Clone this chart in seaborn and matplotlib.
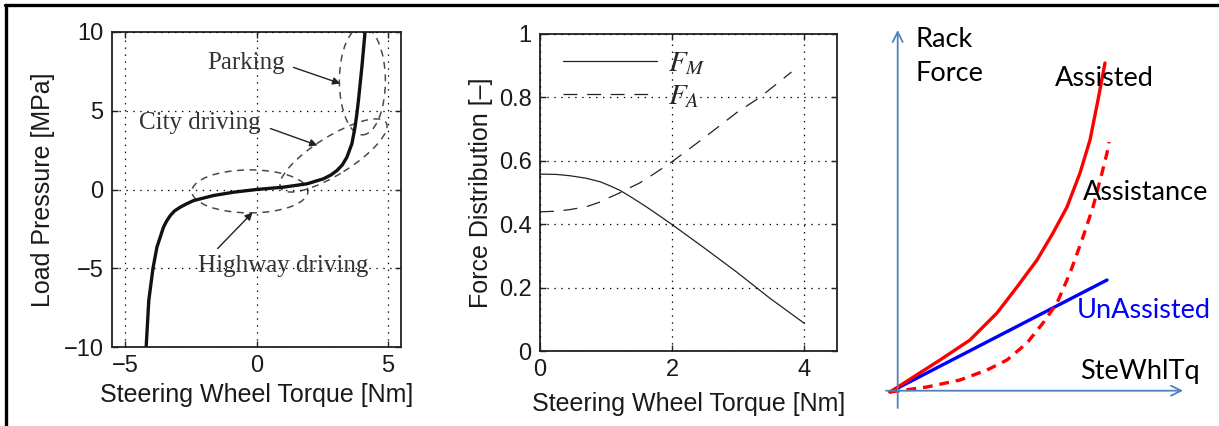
import numpy as np
import pandas as pd
import seaborn as sns
import matplotlib
matplotlib.use("Agg")
import matplotlib.pyplot as plt
from matplotlib.patches import Ellipse
from matplotlib.lines import Line2D
from matplotlib.transforms import ScaledTranslation

# ---------------- data ----------------
# Panel 1: load pressure vs steering wheel torque
p1_torque = [-4.20, -4.10, -3.94, -3.79, -3.54, -3.42, -3.28, -3.12, -2.90, -2.65, -2.39,
             -1.63, -0.87, 0.0, 1.03, 1.92, 2.55, 2.83, 3.06, 3.27, 3.44, 3.63, 3.75,
             3.82, 3.88, 4.01, 4.13]
p1_pressure = [-10.0, -7.05, -5.0, -3.66, -2.39, -2.0, -1.65, -1.36, -1.12, -0.90, -0.70,
               -0.38, -0.17, 0.0, 0.15, 0.36, 0.68, 0.92, 1.20, 1.57, 2.05, 2.90, 3.96,
               4.80, 5.65, 7.76, 9.97]
p1_xticks = [-5, 0, 5]
p1_yticks = [-10, -5, 0, 5, 10]
# annotation ellipses: centre (Nm, MPa), width/height (px), angle (deg)
ell_centers = [(4.03, 6.9), (2.93, 2.16), (-0.25, -0.12)]
ell_sizes = [(46, 108), (124, 38), (116, 43)]
ell_angles = [0, 32, 0]
ann_labels = ["Parking", "City driving", "Highway driving"]
ann_text_pos = [(-0.38, 8.0), (-2.17, 4.25), (1.03, -4.83)]
ann_tail = [(1.41, 7.75), (0.53, 3.87), (-1.48, -3.75)]
ann_head = [(3.19, 6.73), (2.32, 2.80), (-0.15, -1.46)]

# Panel 2: force distribution
p2_torque = [0.0, 0.25, 0.45, 0.70, 0.91, 1.05, 1.21, 1.40, 1.61, 1.80, 2.0, 2.47, 2.98,
             3.48, 4.0]
p2_fm = [0.558, 0.557, 0.553, 0.545, 0.534, 0.522, 0.507, 0.483, 0.455, 0.428, 0.399,
         0.328, 0.249, 0.167, 0.088]
p2_fa_torque = [0.0, 0.25, 0.45, 0.70, 0.91, 1.05, 1.21, 1.35, 1.51, 1.75, 2.0, 2.47,
                2.98, 3.33, 3.81]
p2_fa = [0.439, 0.441, 0.446, 0.455, 0.470, 0.484, 0.499, 0.514, 0.530, 0.562, 0.597,
         0.670, 0.752, 0.800, 0.880]
p2_xticks = [0, 2, 4]
p2_yticks = [0, 0.2, 0.4, 0.6, 0.8, 1]
p2_yticklabels = ["0", "0.2", "0.4", "0.6", "0.8", "1"]

# Panel 3: schematic rack force vs steering wheel torque (arbitrary units)
assisted_x = [0.0, 2.5, 5.0, 8.0, 10.7, 12.7, 14.7, 16.3, 17.7, 19.0, 20.0, 20.8, 21.5]
assisted_y = [0.0, 1.6, 3.2, 5.2, 7.9, 10.5, 13.2, 15.9, 18.5, 21.9, 25.2, 29.2, 32.9]
assistance_x = [0.0, 3.7, 7.0, 9.7, 11.7, 13.7, 15.3, 16.7, 18.0, 19.2, 20.3, 21.2, 21.7, 21.9]
assistance_y = [0.0, 0.5, 1.2, 2.2, 3.2, 4.9, 6.9, 8.9, 11.9, 15.2, 18.5, 21.9, 23.9, 25.0]
unassisted_x = [0.0, 21.7]
unassisted_y = [0.0, 11.2]

# ---------------- style ----------------
sns.set_theme(style="ticks")
plt.rcParams["font.family"] = ["Liberation Sans", "DejaVu Sans"]
plt.rcParams["mathtext.fontset"] = "stix"
plt.rcParams["lines.scale_dashes"] = False

TXT = "#1a1a1a"
fig = plt.figure(figsize=(12.19, 4.26), dpi=100)
W, H = 1219, 426


def px_axes(l, t, r, b):
    return fig.add_axes([l / W, 1 - b / H, (r - l) / W, (b - t) / H])


def matlab_style(ax):
    for s in ax.spines.values():
        s.set_color("#222222")
        s.set_linewidth(1.3)
    ax.tick_params(direction="in", top=True, right=True, length=4, width=1,
                   labelsize=17, colors="#222222", labelcolor=TXT, pad=6)
    ax.grid(True, color="black", linestyle=(0, (1, 4)), linewidth=0.9)
    ax.set_axisbelow(False)


# ---------- Panel 1 ----------
ax1 = px_axes(112, 32, 401, 347)
sns.lineplot(x=p1_torque, y=p1_pressure, ax=ax1, color="#111111", linewidth=2.4,
             sort=False, estimator=None)
ax1.set_xlim(-5.5, 5.5)
ax1.set_ylim(-10, 10)
ax1.set_xticks(p1_xticks)
ax1.set_yticks(p1_yticks)
ax1.set_xticklabels(["\u22125", "0", "5"])
ax1.set_yticklabels(["\u221210", "\u22125", "0", "5", "10"])
matlab_style(ax1)
ax1.set_xlabel("Steering Wheel Torque [Nm]", fontsize=18, color=TXT, labelpad=4)
ax1.set_ylabel("Load Pressure [MPa]", fontsize=18, color=TXT, labelpad=6)

for c, (w, h), a in zip(ell_centers, ell_sizes, ell_angles):
    tr = fig.dpi_scale_trans + ScaledTranslation(c[0], c[1], ax1.transData)
    e = Ellipse((0, 0), w / 100, h / 100, angle=a, transform=tr, fill=False,
                edgecolor="#4a4a4a", linewidth=1.1, linestyle=(0, (5, 4)))
    ax1.add_patch(e)
    e.set_clip_path(ax1.patch)

for lab, tp, tl, hd in zip(ann_labels, ann_text_pos, ann_tail, ann_head):
    ax1.text(tp[0], tp[1], lab, fontsize=18, family=["Liberation Serif"],
             color="#333333", ha="center", va="center")
    ax1.annotate("", xy=hd, xytext=tl,
                 arrowprops=dict(arrowstyle="-|>", color="#222222", lw=1.0,
                                 mutation_scale=11, shrinkA=0, shrinkB=0))

# ---------- Panel 2 ----------
ax2 = px_axes(540, 34, 837, 351)
sns.lineplot(x=p2_torque, y=p2_fm, ax=ax2, color="#222222", linewidth=0.9,
             sort=False, estimator=None, label="$F_M$")
sns.lineplot(x=p2_fa_torque, y=p2_fa, ax=ax2, color="#222222", linewidth=0.9,
             sort=False, estimator=None, label="$F_A$", linestyle=(0, (10, 7)))
ax2.set_xlim(0, 4.5)
ax2.set_ylim(0, 1)
ax2.set_xticks(p2_xticks)
ax2.set_yticks(p2_yticks)
ax2.set_yticklabels(p2_yticklabels)
matlab_style(ax2)
ax2.set_xlabel("Steering Wheel Torque [Nm]", fontsize=18, color=TXT, labelpad=8)
ax2.set_ylabel("Force Distribution [\u2013]", fontsize=18, color=TXT, labelpad=4)
ax2.legend(loc="upper left", bbox_to_anchor=(0.0, 1.025), frameon=False,
           fontsize=21, handlelength=3.2, labelspacing=0.15, handletextpad=0.4,
           borderaxespad=0.4)

# ---------- Panel 3 ----------
ax3 = px_axes(860, 0, 1219, 426)
ax3.set_xlim(-3.0, 32.9)
ax3.set_ylim(-3.4, 39.2)
ax3.axis("off")
AX_BLUE = "#4f81bd"
ax3.annotate("", xy=(0.77, 36.2), xytext=(0.77, -1.6),
             arrowprops=dict(arrowstyle="->", color=AX_BLUE, lw=1.3,
                             mutation_scale=18, shrinkA=0, shrinkB=0))
ax3.annotate("", xy=(29.3, 0.13), xytext=(-0.4, 0.13),
             arrowprops=dict(arrowstyle="->", color=AX_BLUE, lw=1.3,
                             mutation_scale=18, shrinkA=0, shrinkB=0))
sns.lineplot(x=unassisted_x, y=unassisted_y, ax=ax3, color="#0000ff", linewidth=2.4,
             sort=False, estimator=None)
sns.lineplot(x=assistance_x, y=assistance_y, ax=ax3, color="#ff0000", linewidth=2.4,
             sort=False, estimator=None, linestyle=(0, (7, 5)))
sns.lineplot(x=assisted_x, y=assisted_y, ax=ax3, color="#ff0000", linewidth=2.4,
             sort=False, estimator=None)
F3 = ["Lato", "DejaVu Sans"]
ax3.text(2.5, 36.5, "Rack\nForce", family=F3, fontsize=19.5, color="black",
         ha="left", va="top", linespacing=1.45)
ax3.text(16.5, 31.4, "Assisted", family=F3, fontsize=19.5, color="black", ha="left", va="center")
ax3.text(19.3, 19.9, "Assistance", family=F3, fontsize=19.5, color="black", ha="left", va="center")
ax3.text(18.7, 8.2, "UnAssisted", family=F3, fontsize=19.5, color="#0000ff", ha="left", va="center")
ax3.text(19.0, 2.0, "SteWhlTq", family=F3, fontsize=19.5, color="black", ha="left", va="center")

# figure frame (top and left edges)
fig.add_artist(Line2D([5 / W, 1], [1 - 4.5 / H, 1 - 4.5 / H], color="black", lw=2.4,
                      transform=fig.transFigure))
fig.add_artist(Line2D([6 / W, 6 / W], [0, 1 - 4.5 / H], color="black", lw=2.4,
                      transform=fig.transFigure))

fig.savefig("out.png", dpi=100)
